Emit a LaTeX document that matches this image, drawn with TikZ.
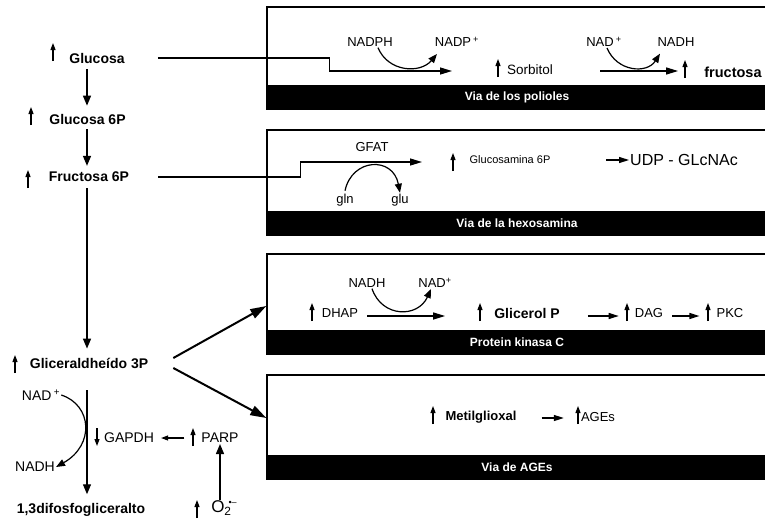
\documentclass[tikz,border=0pt]{standalone}
\usepackage{fontspec}
\setmainfont{Liberation Sans}
\usetikzlibrary{arrows.meta, positioning}

\begin{document}
\begin{tikzpicture}[
    x=1pt, y=-1pt,
    % Node styles
    met/.style={inner sep=1pt, font=\fontsize{14}{16}\selectfont\bfseries},
    lbl/.style={inner sep=1pt, font=\fontsize{13}{15}\selectfont},
    lbll/.style={inner sep=1pt, font=\fontsize{14}{16}\selectfont},
    pathbox/.style={rectangle, draw, line width=1.3pt, minimum width=500pt, inner sep=0pt},
    bar/.style={rectangle, fill=black, text=white, minimum width=500pt, minimum height=24pt, inner sep=0pt, font=\fontsize{12}{14}\selectfont\bfseries},
    % Arrow styles
    arrow/.style={-{Triangle[length=10pt, width=8pt]}, line width=1.4pt},
    flow/.style={-{Triangle[length=12pt, width=7pt]}, line width=1.3pt},
    link/.style={-{Triangle[length=10pt, width=6pt]}, line width=1.3pt},
    bigarrow/.style={-{Triangle[length=16pt, width=10pt]}, line width=2pt},
    curv/.style={-{Triangle[length=9pt, width=7pt]}, line width=1.2pt},
    up/.style={-{Triangle[length=7pt, width=5pt]}, line width=1.1pt},
]
\useasboundingbox (0,0) rectangle (765,525);
\clip (0,0) rectangle (765,525);

% ============================================================================
% PATHWAY BOXES
% ============================================================================
\node[pathbox, minimum height=102pt] (boxpol) at (517,58) {};
\node[bar, anchor=south] (barpol) at (boxpol.south) {Via de los polioles};

\node[pathbox, minimum height=105pt] (boxhex) at (517,182.5) {};
\node[bar, anchor=south] (barhex) at (boxhex.south) {Via de la hexosamina};

\node[pathbox, minimum height=100pt] (boxpkc) at (517,304) {};
\node[bar, anchor=south] (barpkc) at (boxpkc.south) {Protein kinasa C};

\node[pathbox, minimum height=104pt] (boxage) at (517,427) {};
\node[bar, anchor=south] (barage) at (boxage.south) {Via de AGEs};

% ============================================================================
% GLYCOLYSIS (left column)
% ============================================================================
\coordinate (trunk) at (87,0);
\node[met] (glc) at (97,58) {Glucosa};
\node[met] (g6p) at (87.5,119) {Glucosa 6P};
\node[met] (f6p) at (89,177) {Fructosa 6P};
\node[met] (gald) at (89,363) {Gliceraldheído 3P};
\node[met] (dpg) at (81,510) {1,3difosfogliceralto};

\draw[arrow, shorten <=5pt, shorten >=7pt] (glc.south -| trunk) -- (g6p.north -| trunk);
\draw[arrow, shorten <=4pt, shorten >=5pt] (g6p.south -| trunk) -- (f6p.north -| trunk);
\draw[arrow, shorten <=5pt, shorten >=8pt] (f6p.south -| trunk) -- (gald.north -| trunk);
\draw[arrow, shorten <=21pt, shorten >=8pt] (gald.south -| trunk) -- (dpg.north -| trunk);

% NAD+ / NADH at GAPDH step
\node[lbll] (nadl) at (41,395) {NAD\,\textsuperscript{+}};
\node[lbll] (nadhl) at (35,467) {NADH};
\draw[curv] (nadl.east) .. controls (92,405) and (95,445) .. (nadhl.east);

\node[lbll] (gapdh) at (129,438) {GAPDH};
\node[lbll] (parp) at (220,438) {PARP};
\node[lbll, font=\fontsize{17}{19}\selectfont] (o2) at (224,508) {O\textsubscript{2}\kern-3pt\raisebox{7pt}{\fontsize{9}{9}\selectfont\textbullet–}};
\draw[up] ([xshift=-16pt]parp.west) -- ([xshift=6pt]gapdh.east);
\draw[arrow] (parp.south |- o2.north) -- (parp.south);

% branches to PKC and AGEs
\draw[bigarrow] ([shift={(24pt,5pt)}]gald.east) -- ([yshift=-2pt]boxpkc.west);
\draw[bigarrow] ([shift={(24pt,-5pt)}]gald.east) -- ([yshift=9pt]boxage.west);

% ============================================================================
% POLYOL PATHWAY
% ============================================================================
\node[lbl] (nadph) at (370,42) {NADPH};
\node[lbl] (nadpp) at (457,42) {NADP\,\textsuperscript{+}};
\node[lbl, font=\fontsize{13.5}{15}\selectfont] (sorb) at (530,70) {Sorbitol};
\node[lbl] (nadp) at (604,42) {NAD\,\textsuperscript{+}};
\node[lbl] (nadh) at (676,42) {NADH};
\node[met, font=\fontsize{14.5}{16}\selectfont\bfseries] (fru) at (733,72) {fructosa};

\coordinate (polin) at (452,71);
\draw[flow] ([xshift=32pt]glc.east) -- ++(172,0) |- (polin);
\draw[flow] ([shift={(46pt,-1pt)}]sorb.east) -- ++(78,0);
\draw[curv] ([xshift=8pt]nadph.south) .. controls (388,72) and (420,74) .. ([shift={(-20pt,-6pt)}]nadpp.south);
\draw[curv] ([xshift=3pt]nadp.south) .. controls (617,72) and (647,74) .. ([shift={(-16pt,-6pt)}]nadh.south);

% ============================================================================
% HEXOSAMINE PATHWAY
% ============================================================================
\node[lbl] (gfat) at (372,147) {GFAT};
\node[lbl] (gln) at (345,200) {gln};
\node[lbl] (glu) at (400,200) {glu};
\node[lbl, font=\fontsize{11}{13}\selectfont] (glcn) at (510,160) {Glucosamina 6P};
\node[lbl, font=\fontsize{16}{18}\selectfont] (udp) at (684,160) {UDP - GLcNAc};

\coordinate (hexin) at (422,162);
\draw[flow] ([xshift=28pt]f6p.east) -- ++(142,0) |- (hexin);
\draw[curv] ([yshift=2pt]gln.north) .. controls (352,158) and (393,156) .. (glu.north);
\draw[link] ([xshift=-23pt]udp.west) -- (udp.west);

% ============================================================================
% PROTEIN KINASE C
% ============================================================================
\node[lbl] (nadhp) at (367,283) {NADH};
\node[lbl] (nadpk) at (435,283) {NAD\textsuperscript{+}};
\node[lbl] (dhap) at (340,313) {DHAP};
\node[met] (glp) at (527,313) {Glicerol P};
\node[lbl] (dag) at (649,313) {DAG};
\node[lbl] (pkc) at (730,313) {PKC};

\draw[flow] ([shift={(8pt,-3pt)}]dhap.east) -- ([shift={(-48pt,-3pt)}]glp.west);
\draw[curv] ([xshift=5pt]nadhp.south) .. controls (382,318) and (418,318) .. ([xshift=-4pt]nadpk.south);
\draw[link] ([shift={(27pt,-3pt)}]glp.east) -- ([shift={(-15pt,-3pt)}]dag.west);
\draw[link] ([shift={(8pt,-3pt)}]dag.east) -- ([shift={(-16pt,-3pt)}]pkc.west);

% ============================================================================
% AGEs
% ============================================================================
\node[met, font=\fontsize{13}{15}\selectfont\bfseries] (mgo) at (481,417) {Metilglioxal};
\node[lbl] (ages) at (598,417) {AGEs};
\draw[link] ([shift={(24pt,-1pt)}]mgo.east) -- ([shift={(-16pt,-1pt)}]ages.west);

% Increase / decrease marks
\foreach \x/\y in {53/61, 31/125, 28/188, 15/373, 498/77, 685/78, 453/171,
                   312/321, 480/321, 627/321, 708/321, 433/424, 578/424, 193/446, 197/518} {
    \draw[up] (\x,\y) -- ++(0,-18);
}
\draw[up] (97,428) -- (97,446);

\end{tikzpicture}
\end{document}
